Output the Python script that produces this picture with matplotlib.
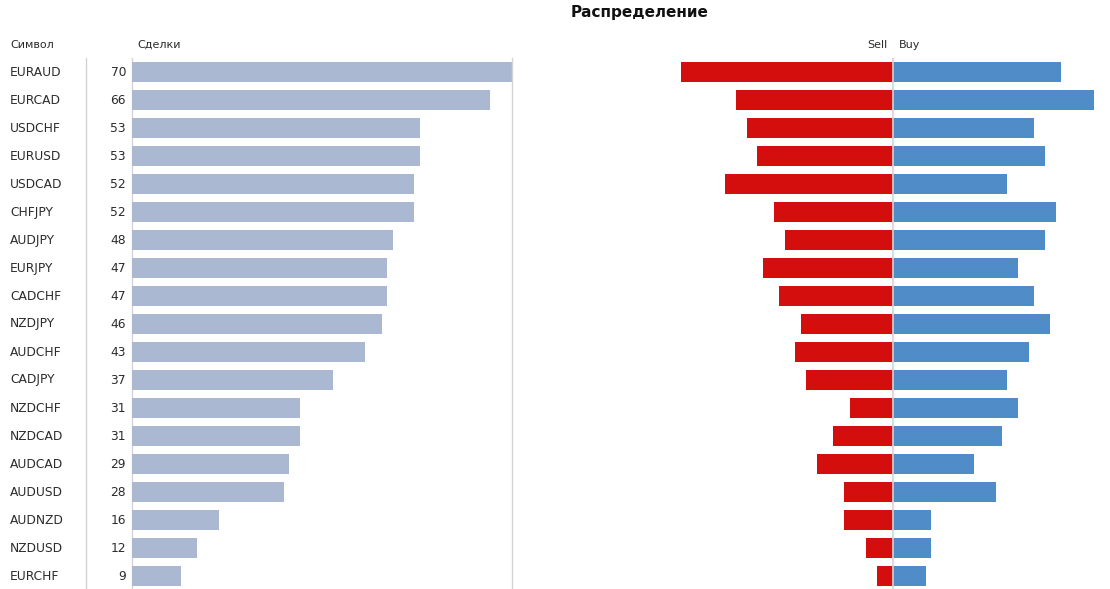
import matplotlib
matplotlib.use("Agg")
import matplotlib.pyplot as plt
from matplotlib.lines import Line2D

symbols = ["EURAUD", "EURCAD", "USDCHF", "EURUSD", "USDCAD", "CHFJPY", "AUDJPY",
           "EURJPY", "CADCHF", "NZDJPY", "AUDCHF", "CADJPY", "NZDCHF", "NZDCAD",
           "AUDCAD", "AUDUSD", "AUDNZD", "NZDUSD", "EURCHF"]
deals = [70, 66, 53, 53, 52, 52, 48, 47, 47, 46, 43, 37, 31, 31, 29, 28, 16, 12, 9]
sell = [39, 29, 27, 25, 31, 22, 20, 24, 21, 17, 18, 16, 8, 11, 14, 9, 9, 5, 3]
buy = [31, 37, 26, 28, 21, 30, 28, 23, 26, 29, 25, 21, 23, 20, 15, 19, 7, 7, 6]

W, H = 1110, 589
fig = plt.figure(figsize=(W / 100, H / 100), dpi=100)
plt.rcParams['font.family'] = ['DejaVu Sans']

txt = '#2b2b2b'
grid = '#d4d4d4'
top_px, bot_px = 58, 590
n = len(symbols)
ys = list(range(n))

def ax_rect(x0, x1):
    return [x0 / W, 1 - bot_px / H, (x1 - x0) / W, (bot_px - top_px) / H]

# left bar axes
axL = fig.add_axes(ax_rect(132, 512))
axL.barh(ys, deals, height=0.71, color='#abb8d1', zorder=1)
axL.set_xlim(0, 70)
axL.set_ylim(n - 0.5, -0.5)
axL.set_xticks([]); axL.set_yticks([])
for s in axL.spines.values():
    s.set_visible(False)
axL.axvline(70, color=grid, lw=1, clip_on=False, zorder=3)
axL.axvline(0, color=grid, lw=1, clip_on=False, zorder=0)

# right diverging axes
axR = fig.add_axes(ax_rect(676, 1110))
axR.barh(ys, [-v for v in sell], height=0.71, color='#d40e0d')
axR.barh(ys, buy, height=0.71, color='#508cc8')
axR.set_xlim(-40, 40)
axR.set_ylim(n - 0.5, -0.5)
axR.set_xticks([]); axR.set_yticks([])
for s in axR.spines.values():
    s.set_visible(False)
axR.axvline(0, color=grid, lw=1.2, zorder=3)

# row labels
for i, (sym, d) in enumerate(zip(symbols, deals)):
    y_px = top_px + (i + 0.5) * (bot_px - top_px) / n
    yf = 1 - y_px / H
    fig.text(10 / W, yf, sym, ha='left', va='center', fontsize=8.8, color=txt)
    fig.text(126 / W, yf, str(d), ha='right', va='center', fontsize=8.8, color=txt)

fig.add_artist(Line2D([86 / W, 86 / W], [0, 1 - top_px / H], color=grid, lw=1))

# headers
hy = 1 - 45 / H
fig.text(10 / W, hy, "Символ", ha='left', va='center', fontsize=8, color=txt)
fig.text(137 / W, hy, "Сделки", ha='left', va='center', fontsize=8, color=txt)
fig.text(888 / W, hy, "Sell", ha='right', va='center', fontsize=8, color=txt)
fig.text(899 / W, hy, "Buy", ha='left', va='center', fontsize=8, color=txt)
fig.text(640 / W, 1 - 12 / H, "Распределение", ha='center', va='center',
         fontsize=11, fontweight='bold', color='#111111')

fig.savefig("out.png", dpi=100)
